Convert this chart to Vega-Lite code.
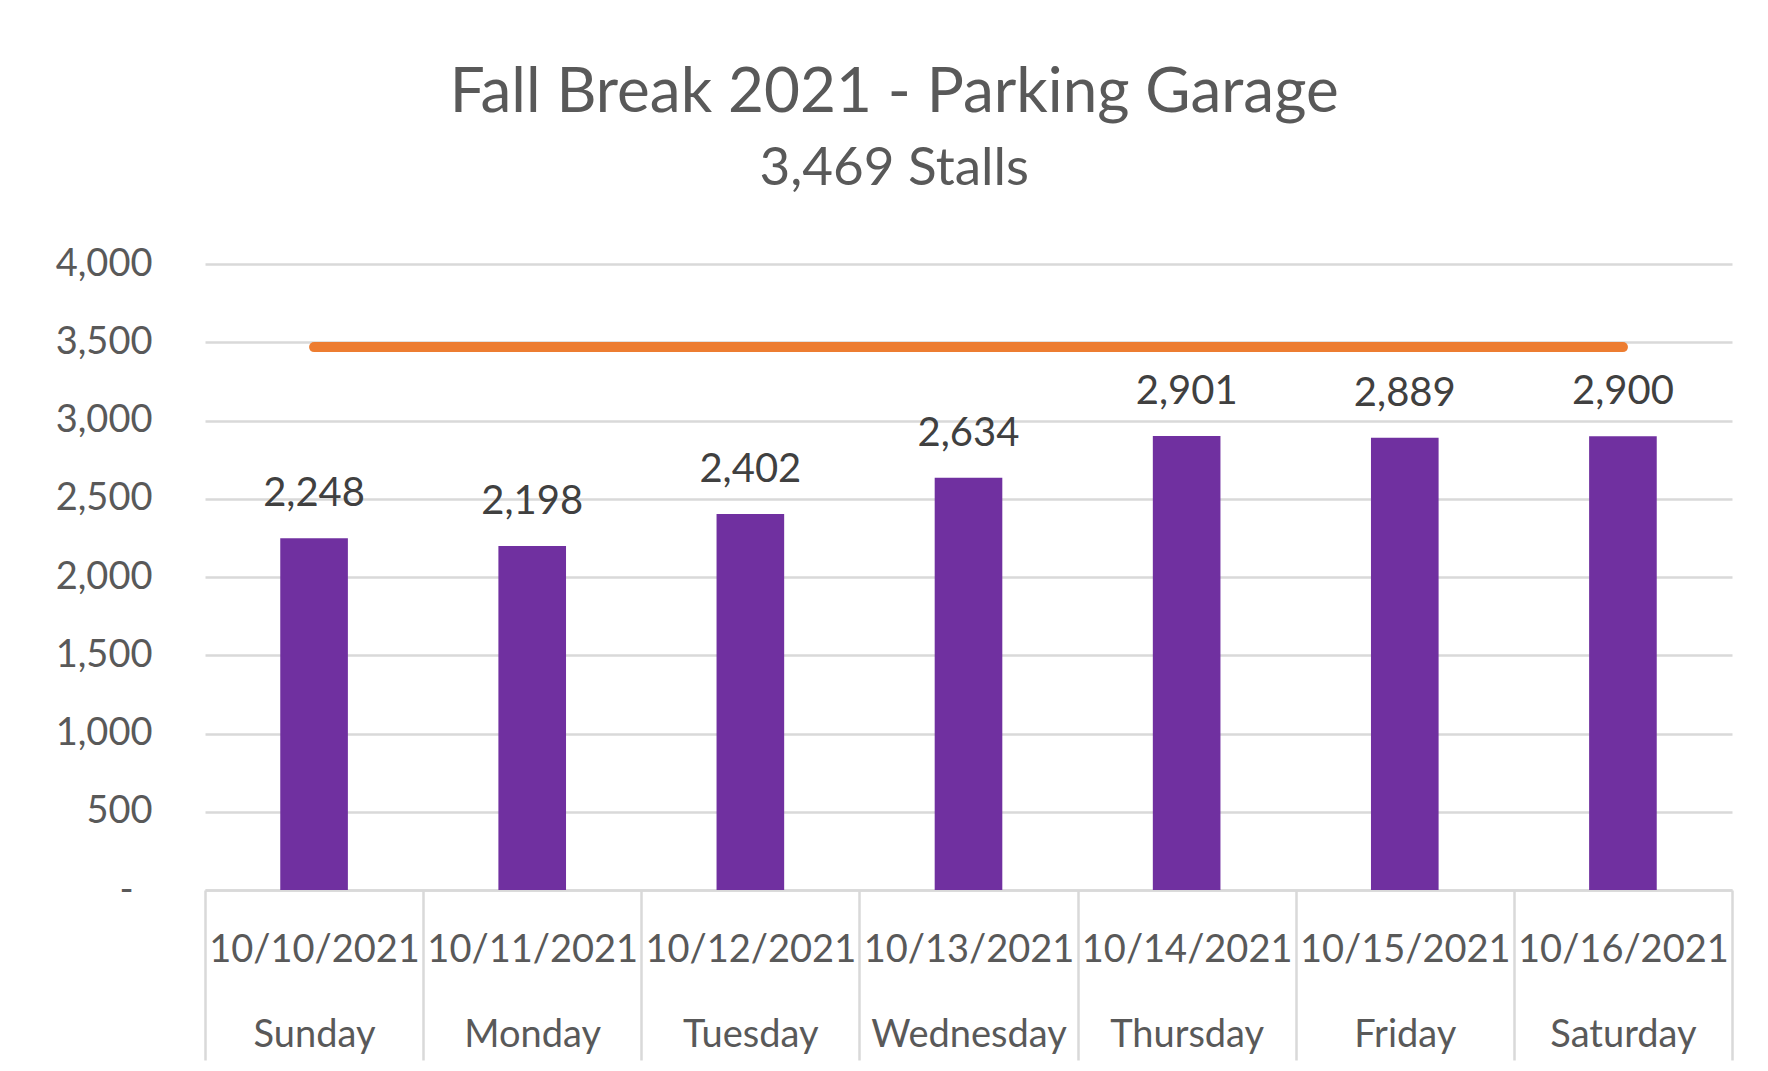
{
  "$schema": "https://vega.github.io/schema/vega-lite/v6.json",
  "autosize": {"type": "none"},
  "width": 1527,
  "height": 626,
  "padding": {"left": 205, "top": 264, "right": 36, "bottom": 181},
  "background": "white",
  "config": {
    "font": "Lato",
    "view": {"stroke": null}
  },
  "title": {
    "text": "Fall Break 2021 - Parking Garage",
    "subtitle": "3,469 Stalls",
    "anchor": "middle",
    "frame": "bounds",
    "font": "Lato",
    "fontSize": 62,
    "fontWeight": "normal",
    "color": "#595959",
    "subtitleFont": "Lato",
    "subtitleFontSize": 53,
    "subtitleColor": "#595959",
    "subtitlePadding": 18,
    "offset": 48
  },
  "data": {
    "values": [
      {"cat": "10/10/2021|Sunday", "count": 2248, "stalls": 3469},
      {"cat": "10/11/2021|Monday", "count": 2198, "stalls": 3469},
      {"cat": "10/12/2021|Tuesday", "count": 2402, "stalls": 3469},
      {"cat": "10/13/2021|Wednesday", "count": 2634, "stalls": 3469},
      {"cat": "10/14/2021|Thursday", "count": 2901, "stalls": 3469},
      {"cat": "10/15/2021|Friday", "count": 2889, "stalls": 3469},
      {"cat": "10/16/2021|Saturday", "count": 2900, "stalls": 3469}
    ]
  },
  "encoding": {
    "x": {
      "field": "cat",
      "type": "nominal",
      "sort": null,
      "scale": {"paddingInner": 0, "paddingOuter": 0},
      "axis": {
        "title": null,
        "labelExpr": "datum.value ? split(datum.value, '|') : ''",
        "labelAngle": 0,
        "labelFont": "Lato",
        "labelFontSize": 38,
        "labelColor": "#595959",
        "labelLineHeight": 85,
        "labelLimit": 0,
        "labelOverlap": false,
        "labelPadding": -129,
        "tickBand": "extent",
        "tickSize": 170,
        "tickWidth": 2.5,
        "tickColor": "#d9d9d9",
        "domainColor": "#d9d9d9",
        "domainWidth": 2.5,
        "grid": false
      }
    }
  },
  "layer": [
    {
      "mark": {"type": "bar", "color": "#7030A0", "width": {"band": 0.31}},
      "encoding": {
        "y": {
          "field": "count",
          "type": "quantitative",
          "scale": {"domain": [0, 4000]},
          "axis": {
            "title": null,
            "values": [0, 500, 1000, 1500, 2000, 2500, 3000, 3500, 4000],
            "labelExpr": "datum.value === 0 ? '-' : format(datum.value, ',')",
            "labelFont": "Lato",
            "labelFontSize": 38,
            "labelColor": "#595959",
            "labelPadding": {"condition": {"test": "datum.value === 0", "value": 72}, "value": 53},
            "ticks": false,
            "tickSize": 0,
            "domain": false,
            "grid": true,
            "gridColor": "#d9d9d9",
            "gridWidth": 2.5
          }
        }
      }
    },
    {
      "mark": {"type": "text", "baseline": "bottom", "dy": -24, "font": "Lato", "fontSize": 40, "color": "#404040"},
      "encoding": {
        "y": {"field": "count", "type": "quantitative"},
        "text": {"field": "count", "type": "quantitative", "format": ","}
      }
    },
    {
      "mark": {"type": "line", "color": "#ED7D31", "strokeWidth": 10, "strokeCap": "round"},
      "encoding": {
        "y": {"field": "stalls", "type": "quantitative"}
      }
    }
  ]
}
